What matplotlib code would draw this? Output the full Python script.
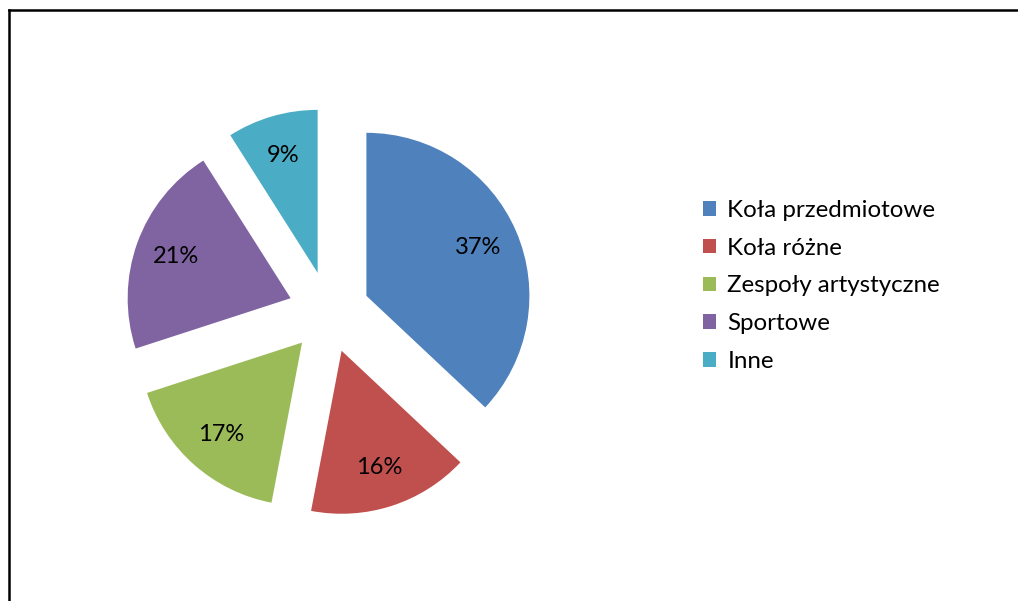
import matplotlib.pyplot as plt
from matplotlib.lines import Line2D

labels = ["Koła przedmiotowe", "Koła różne", "Zespoły artystyczne", "Sportowe", "Inne"]
values = [37, 16, 17, 21, 9]
colors = ["#4F81BD", "#C0504D", "#9BBB59", "#8064A2", "#4BACC6"]

plt.rcParams['font.family'] = ['Lato', 'DejaVu Sans']

W, H = 1018, 601
fig = plt.figure(figsize=(W / 100, H / 100), dpi=100)

# pie centre ~ (329, 312) px, radius ~163 px
R = 163
L = 1.5
side = 2 * L * R
cx, cy = 329, 312
ax = fig.add_axes([(cx - side / 2) / W, (H - cy - side / 2) / H, side / W, side / H])

wedges, texts, autotexts = ax.pie(values, colors=colors, startangle=90, counterclock=False,
                                  explode=[0.25] * len(values), autopct='%1.0f%%',
                                  pctdistance=0.75, radius=1.0,
                                  textprops={'fontsize': 17, 'color': 'black'})
ax.set_xlim(-L, L)
ax.set_ylim(-L, L)
ax.set_aspect('auto')
ax.axis('off')

fig.legend(wedges, labels, loc='upper left', bbox_to_anchor=(691 / W, 1 - 188 / H),
           frameon=False, fontsize=17.4, handlelength=0.55, handleheight=0.55,
           handletextpad=0.45, labelspacing=0.69, borderpad=0)

# chart frame (cropped on right and bottom)
fig.add_artist(Line2D([9 / W, 9 / W], [0, 1 - 10 / H], color='black', lw=1.8))
fig.add_artist(Line2D([9 / W, 1], [1 - 10 / H, 1 - 10 / H], color='black', lw=1.8))

fig.savefig("out.png", dpi=100)
